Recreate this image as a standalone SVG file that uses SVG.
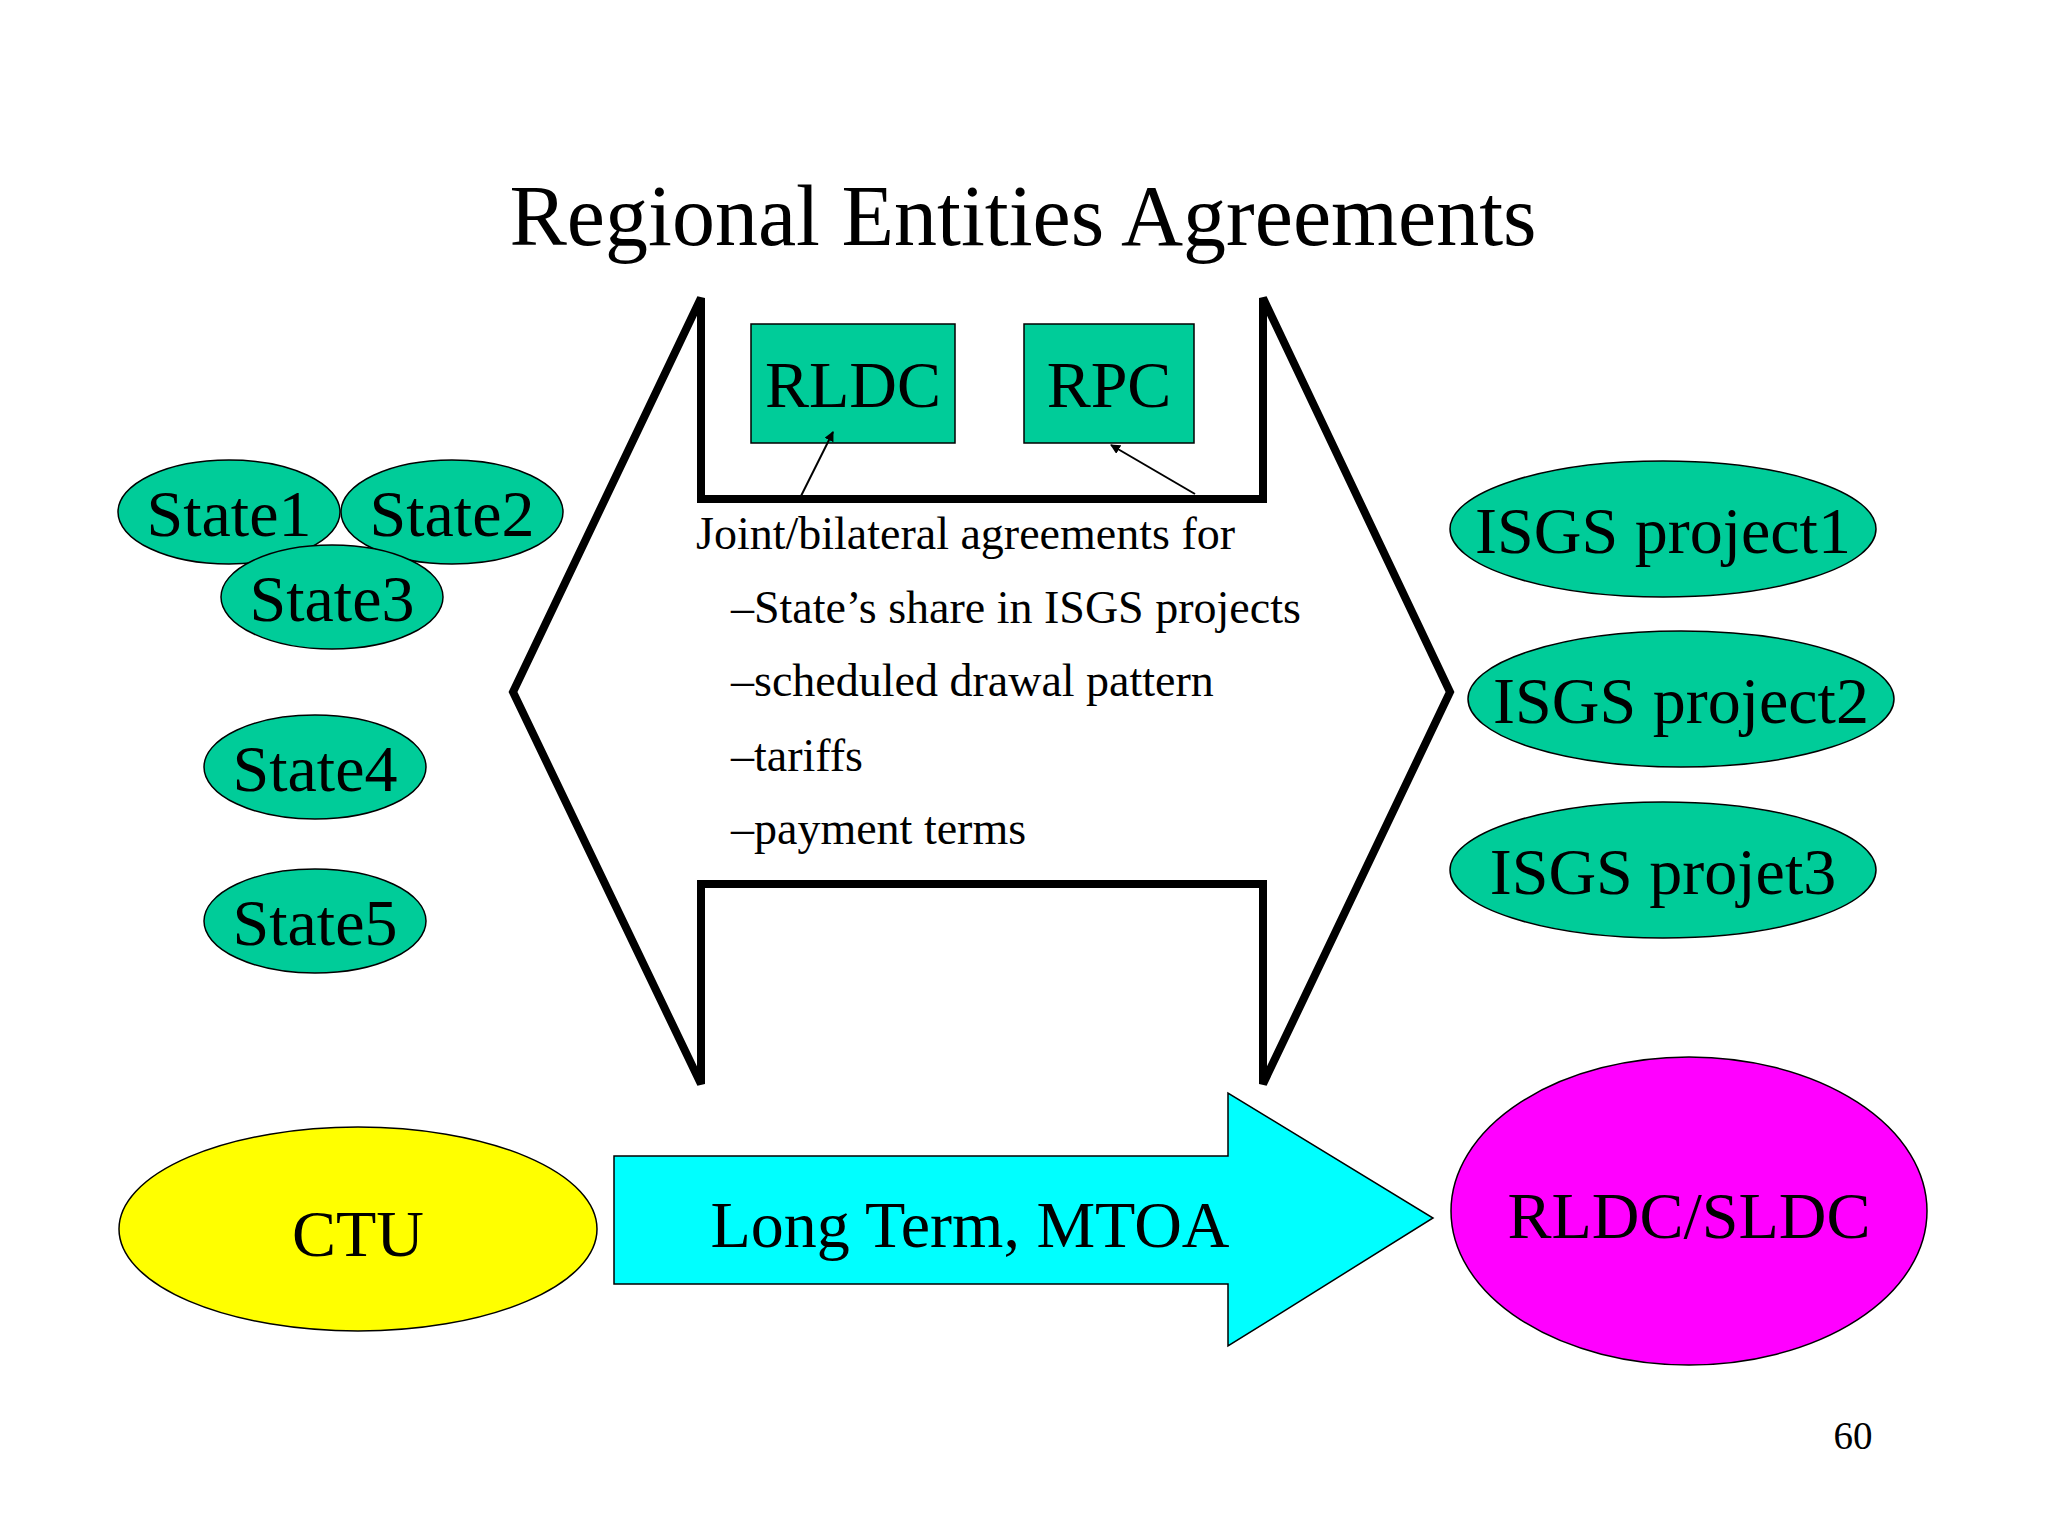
<svg xmlns="http://www.w3.org/2000/svg" width="2048" height="1536" viewBox="0 0 2048 1536">
<style>
text{font-family:"Liberation Serif","Times New Roman",serif;fill:#000}
.n{fill:#00CC99;stroke:#000;stroke-width:1.5}
.big{font-size:66px;text-anchor:middle}
.body{font-size:46px}
</style>
<defs><marker id="ah" markerWidth="10" markerHeight="10" refX="9" refY="5" orient="auto" markerUnits="userSpaceOnUse" viewBox="0 0 10 10"><path d="M0,0L10,5L0,10z" fill="#000"/></marker></defs>
<rect width="2048" height="1536" fill="#fff"/>
<text x="1023" y="245" font-size="86" text-anchor="middle">Regional Entities Agreements</text>
<g id="hexarrow"><polygon points="701,298 701,499 1263,499 1263,298 1450,692 1263,1084 1263,884 701,884 701,1084 513,692" fill="#fff" stroke="#000" stroke-width="8"/></g>
<g id="rldc"><rect class="n" x="751" y="324" width="204" height="119"/><text class="big" x="853" y="407">RLDC</text></g>
<g id="rpc"><rect class="n" x="1024" y="324" width="170" height="119"/><text class="big" x="1109" y="407">RPC</text></g>
<g id="agreements"><text class="body" x="696" y="549">Joint/bilateral agreements for</text>
<text class="body" x="731" y="623">–State’s share in ISGS projects</text>
<text class="body" x="731" y="696">–scheduled drawal pattern</text>
<text class="body" x="731" y="771">–tariffs</text>
<text class="body" x="731" y="844">–payment terms</text></g>
<g id="connectors" stroke="#000" stroke-width="2"><line x1="801" y1="496" x2="833" y2="432" marker-end="url(#ah)"/><line x1="1195" y1="494" x2="1111" y2="445" marker-end="url(#ah)"/></g>
<g id="state1"><ellipse class="n" cx="229" cy="512" rx="111" ry="52"/><text class="big" x="229" y="536">State1</text></g>
<g id="state2"><ellipse class="n" cx="452" cy="512" rx="111" ry="52"/><text class="big" x="452" y="536">State2</text></g>
<g id="state3"><ellipse class="n" cx="332" cy="597" rx="111" ry="52"/><text class="big" x="332" y="621">State3</text></g>
<g id="state4"><ellipse class="n" cx="315" cy="767" rx="111" ry="52"/><text class="big" x="315" y="791">State4</text></g>
<g id="state5"><ellipse class="n" cx="315" cy="921" rx="111" ry="52"/><text class="big" x="315" y="945">State5</text></g>
<g id="isgs1"><ellipse class="n" cx="1663" cy="529" rx="213" ry="68"/><text class="big" x="1663" y="553">ISGS project1</text></g>
<g id="isgs2"><ellipse class="n" cx="1681" cy="699" rx="213" ry="68"/><text class="big" x="1681" y="723">ISGS project2</text></g>
<g id="isgs3"><ellipse class="n" cx="1663" cy="870" rx="213" ry="68"/><text class="big" x="1663" y="894">ISGS projet3</text></g>
<g id="ctu"><ellipse cx="358" cy="1229" rx="239" ry="102" fill="#FFFF00" stroke="#000" stroke-width="1.5"/><text class="big" x="358" y="1256">CTU</text></g>
<g id="longterm"><polygon points="614,1156 1228,1156 1228,1093 1433,1218 1228,1346 1228,1284 614,1284" fill="#00FFFF" stroke="#000" stroke-width="1.5"/><text class="big" x="970" y="1247">Long Term, MTOA</text></g>
<g id="rldcsldc"><ellipse cx="1689" cy="1211" rx="238" ry="154" fill="#FF00FF" stroke="#000" stroke-width="1.5"/><text class="big" x="1689" y="1238">RLDC/SLDC</text></g>
<text x="1853" y="1449" font-size="39" text-anchor="middle">60</text>
</svg>
